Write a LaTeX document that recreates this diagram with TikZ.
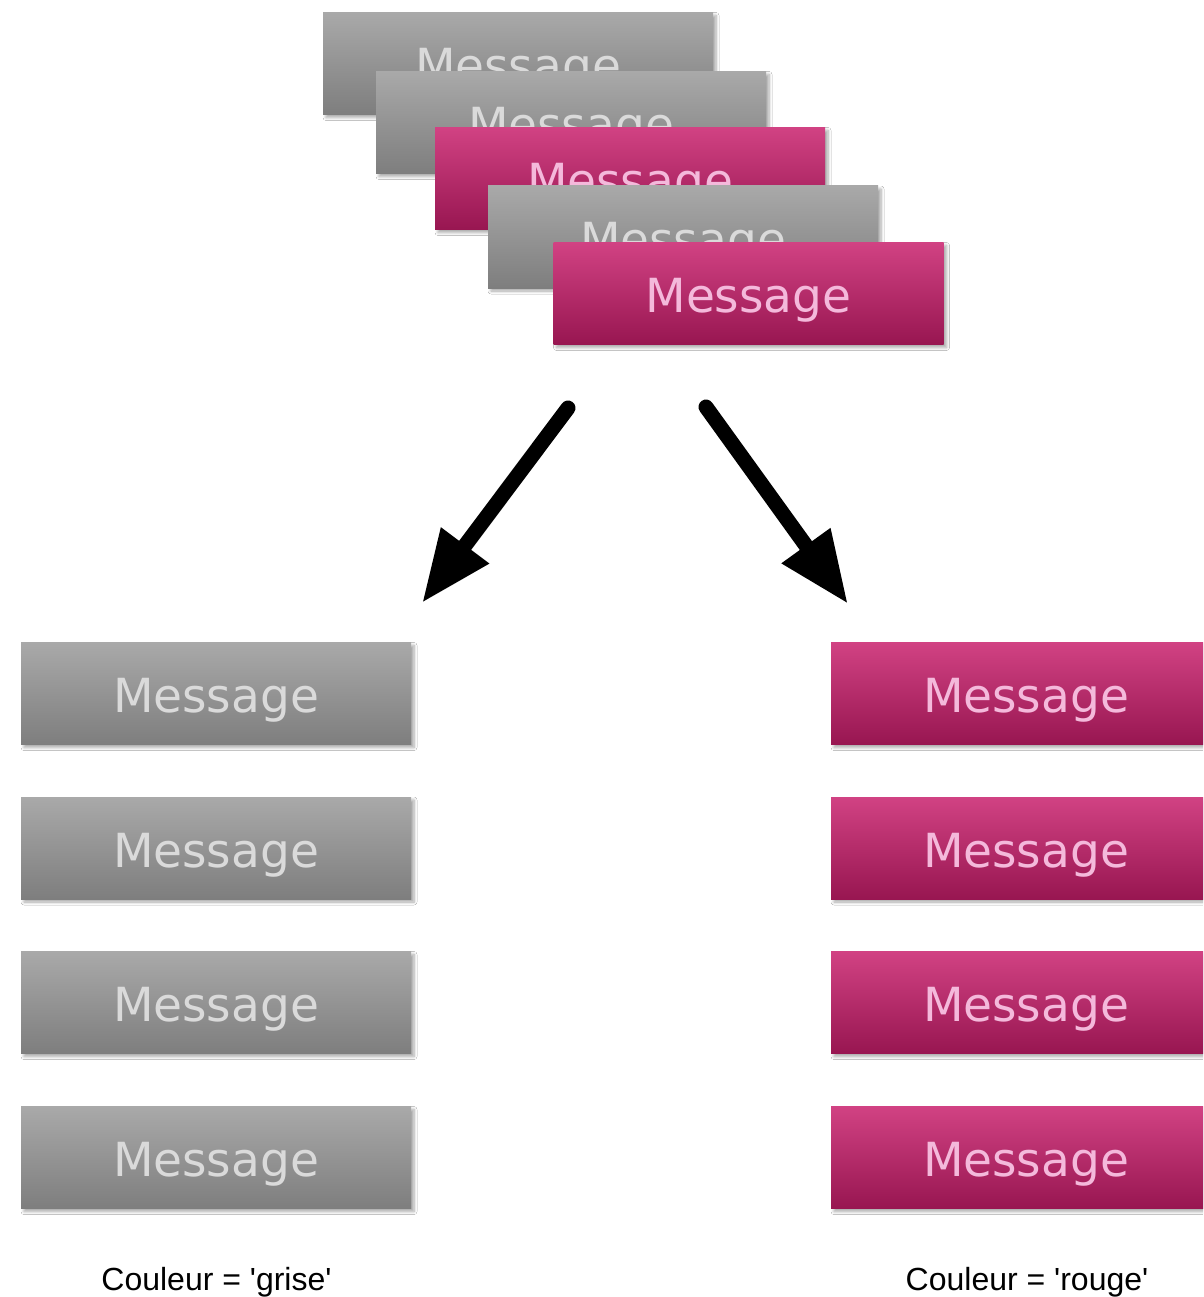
\documentclass[tikz,border=0pt]{standalone}
\usepackage{fontspec}
\usetikzlibrary{arrows.meta,shadows.blur}
\newfontfamily\msgfont{DejaVu Sans}
\newfontfamily\lblfont{Liberation Sans}
\definecolor{greytop}{HTML}{A9A9A9}
\definecolor{greybot}{HTML}{7E7E7E}
\definecolor{greytxt}{HTML}{DADADA}
\definecolor{pinktop}{HTML}{D14283}
\definecolor{pinkbot}{HTML}{981651}
\definecolor{pinktxt}{HTML}{F4B9DB}
\tikzset{
  msgbox/.style={rectangle, inner sep=0pt, minimum width=390pt, minimum height=102pt,
    text height=38pt, text depth=0pt, font=\msgfont\fontsize{47}{50}\selectfont,
    blur shadow={shadow xshift=3pt, shadow yshift=-3pt, shadow blur radius=3pt,
      shadow blur steps=6, shadow opacity=35}},
  greymsg/.style={msgbox, top color=greytop, bottom color=greybot, text=greytxt},
  pinkmsg/.style={msgbox, top color=pinktop, bottom color=pinkbot, text=pinktxt},
  bigarrow/.style={line width=15pt, line cap=round,
    -{Triangle[length=72pt, width=56pt]}},
  caption/.style={font=\lblfont\fontsize{32}{36}\selectfont, anchor=base, inner sep=0pt}
}
\begin{document}
\begin{tikzpicture}[x=1pt, y=-1pt]
  \useasboundingbox (0,0) rectangle (1203,1297);
  \clip (0,0) rectangle (1203,1297);
  \fill[white] (0,0) rectangle (1203,1297);

  % stacked incoming messages
  \node[greymsg] (s1) at (518,63.5)   {Message};
  \node[greymsg] (s2) at (571,122.5)  {Message};
  \node[pinkmsg] (s3) at (630,178.5)  {Message};
  \node[greymsg] (s4) at (683,237)    {Message};
  \node[pinkmsg] (s5) at (748.5,293.5){Message};

  % split arrows
  \coordinate (la0) at (568,408);
  \coordinate (la1) at (422,603);
  \coordinate (ra0) at (706,407);
  \coordinate (ra1) at (848,604);
  \draw[bigarrow] (la0) -- (la1);
  \draw[bigarrow] (ra0) -- (ra1);

  % grey column
  \node[greymsg] (g1) at (216,693.5)  {Message};
  \node[greymsg] (g2) at (216,848)    {Message};
  \node[greymsg] (g3) at (216,1002.5) {Message};
  \node[greymsg] (g4) at (216,1157.5) {Message};

  % pink column
  \node[pinkmsg] (p1) at (1026,693.5)  {Message};
  \node[pinkmsg] (p2) at (1026,848)    {Message};
  \node[pinkmsg] (p3) at (1026,1002.5) {Message};
  \node[pinkmsg] (p4) at (1026,1157.5) {Message};

  % captions
  \node[caption] (cg) at (216.5,1290) {Couleur = 'grise'};
  \node[caption] (cp) at (1027,1290)  {Couleur = 'rouge'};
\end{tikzpicture}
\end{document}
